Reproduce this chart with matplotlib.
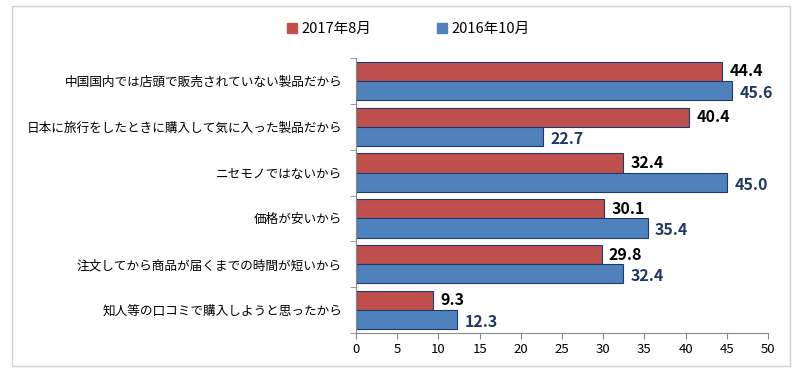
import matplotlib

matplotlib.use("Agg")
import numpy as np
import matplotlib.pyplot as plt
from matplotlib.patches import Rectangle

plt.rcParams["font.family"] = ["Noto Sans CJK JP", "DejaVu Sans"]

# Data
reasons = [
    "中国国内では店頭で販売されていない製品だから",
    "日本に旅行をしたときに購入して気に入った製品だから",
    "ニセモノではないから",
    "価格が安いから",
    "注文してから商品が届くまでの時間が短いから",
    "知人等の口コミで購入しようと思ったから",
]
values_2017 = [44.4, 40.4, 32.4, 30.1, 29.8, 9.3]
values_2016 = [45.6, 22.7, 45.0, 35.4, 32.4, 12.3]
series_names = ["2017年8月", "2016年10月"]

red = "#C0504D"
blue = "#4F81BD"
edge = "#1F3A6E"

fig = plt.figure(figsize=(8, 3.8), dpi=100)
ax = fig.add_axes([0.445, 0.124, 0.515, 0.723])

# Outer chart border
fig.patches.append(Rectangle((0.015, 0.037), 0.972, 0.947, transform=fig.transFigure,
                             fill=False, edgecolor="#D0D0D0", lw=1))

n = len(reasons)
y = np.arange(n)
h = 0.42
ax.barh(y - h / 2, values_2017, height=h, color=red, edgecolor=edge, lw=0.8)
ax.barh(y + h / 2, values_2016, height=h, color=blue, edgecolor=edge, lw=0.8)

for i in range(n):
    ax.text(values_2017[i] + 0.9, y[i] - h / 2, f"{values_2017[i]:.1f}", va="center",
            ha="left", fontsize=11.5, fontweight="bold", color="black")
    ax.text(values_2016[i] + 0.9, y[i] + h / 2 + 0.05, f"{values_2016[i]:.1f}", va="center",
            ha="left", fontsize=11.5, fontweight="bold", color="#1F3864")

ax.set_ylim(n - 0.5, -0.5)
ax.set_xlim(0, 50)
ax.set_xticks(np.arange(0, 51, 5))
ax.set_yticks(y)
ax.set_yticklabels(reasons, fontsize=9.1)
ax.tick_params(axis="y", length=0, pad=10)
ax.set_yticks(np.arange(-0.5, n, 1), minor=True)
ax.tick_params(axis="y", which="minor", length=4, color="#888888")
ax.tick_params(axis="x", length=4, color="#888888", labelsize=9.5)

for s in ["top", "right"]:
    ax.spines[s].set_visible(False)
ax.spines["left"].set_color("#888888")
ax.spines["bottom"].set_color("#888888")

# Legend
handles = [Rectangle((0, 0), 1, 1, color=red), Rectangle((0, 0), 1, 1, color=blue)]
fig.legend(handles, series_names, loc="center", bbox_to_anchor=(0.51, 0.923), ncol=2,
           frameon=False, fontsize=10.5, handlelength=0.7, handleheight=0.7,
           handletextpad=0.3, columnspacing=4.5)

fig.savefig("out.png", dpi=100)
